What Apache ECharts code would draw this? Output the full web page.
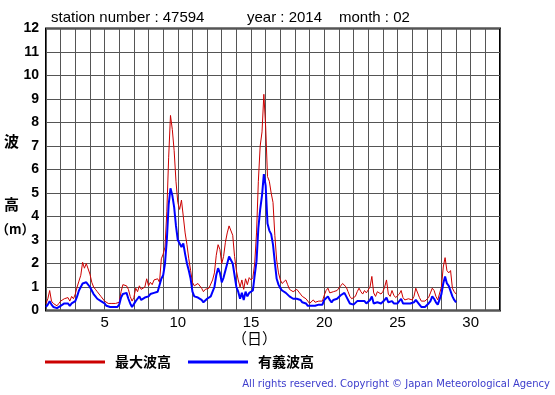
<!DOCTYPE html>
<html><head><meta charset="utf-8">
<script src="https://cdn.jsdelivr.net/npm/echarts@6/dist/echarts.min.js"></script>
<style>html,body{margin:0;padding:0;background:#fff}#c{width:555px;height:395px}</style>
</head><body><div id="c"></div>
<script>
// 3-hourly samples starting at day 1 00:00
const startDay = 1;
const stepsPerDay = 8;
const maxWave = [
 0.3,0.5,0.85,0.4,0.3,0.35,0.2,0.3,
 0.4,0.35,0.5,0.45,0.55,0.4,0.6,0.5,
 0.7,1.0,1.25,1.5,2.05,1.8,2.0,1.95,
 1.55,1.2,1.0,0.9,0.8,0.7,0.6,0.55,
 0.4,0.35,0.3,0.25,0.3,0.25,0.3,0.25,
 0.35,0.8,1.1,1.15,1.05,0.9,0.6,0.4,
 0.55,0.95,0.8,1.05,0.9,0.85,1.0,1.35,
 1.05,1.2,1.1,1.3,1.25,1.35,1.2,2.2,
 2.4,2.7,4.2,6.5,8.3,7.7,6.8,5.5,
 4.6,4.3,4.7,4.0,3.3,2.8,2.2,1.7,
 1.2,1.05,1.0,1.15,1.2,0.95,0.8,0.9,
 0.85,0.95,1.0,1.3,1.6,2.35,2.8,2.6,
 2.0,2.3,2.9,3.3,3.6,3.6,3.2,2.3,
 1.7,1.3,1.0,1.3,0.9,1.35,1.1,1.4,
 1.3,1.4,2.0,3.3,5.5,7.0,7.6,9.2,
 7.8,5.7,5.5,5.0,4.6,3.2,2.15,1.6,
 1.3,1.15,1.2,1.3,1.1,0.9,0.85,0.8,
 0.75,0.9,0.85,0.7,0.6,0.55,0.5,0.4,
 0.3,0.35,0.45,0.35,0.3,0.4,0.45,0.4,
 0.65,0.85,0.95,0.75,0.7,0.8,0.75,0.85,
 0.9,1.05,1.15,1.2,1.0,0.8,0.6,0.5,
 0.45,0.6,0.8,0.95,0.8,0.7,0.85,0.75,
 0.8,1.0,1.45,0.75,0.6,0.8,0.85,0.7,
 0.8,1.0,1.3,0.7,0.6,0.85,0.65,0.55,
 0.5,0.7,0.85,0.55,0.45,0.45,0.5,0.5,
 0.45,0.6,0.95,1.0,0.55,0.4,0.35,0.4,
 0.4,0.55,0.75,0.95,0.85,0.6,0.45,0.4,
 1.0,1.85,2.25,1.7,1.6,1.7,0.95,0.8,
 0.7
];
const sigWave = [
 0.15,0.25,0.4,0.25,0.15,0.2,0.1,0.15,
 0.2,0.15,0.3,0.25,0.3,0.2,0.3,0.25,
 0.4,0.6,0.85,1.0,1.15,1.2,1.2,1.15,
 1.0,0.85,0.7,0.6,0.5,0.45,0.4,0.35,
 0.3,0.2,0.18,0.15,0.18,0.15,0.18,0.15,
 0.25,0.55,0.7,0.75,0.75,0.5,0.3,0.15,
 0.1,0.4,0.5,0.6,0.45,0.45,0.55,0.6,
 0.6,0.7,0.65,0.75,0.7,0.8,0.75,1.35,
 1.5,2.0,3.0,4.5,5.2,4.9,4.4,3.6,
 3.0,2.85,2.7,2.85,2.4,2.0,1.7,1.35,
 0.8,0.6,0.65,0.55,0.5,0.45,0.35,0.4,
 0.5,0.55,0.6,0.8,1.0,1.5,1.8,1.6,
 1.2,1.4,1.7,2.0,2.3,2.3,2.0,1.5,
 1.0,0.8,0.5,0.75,0.45,0.8,0.6,0.75,
 0.7,0.85,1.5,2.1,3.5,4.3,4.9,5.8,
 5.3,3.7,3.4,3.25,2.8,2.05,1.35,1.1,
 0.95,0.85,0.8,0.75,0.7,0.6,0.55,0.5,
 0.5,0.5,0.45,0.45,0.35,0.3,0.3,0.2,
 0.15,0.2,0.25,0.2,0.15,0.25,0.3,0.25,
 0.45,0.5,0.6,0.45,0.35,0.45,0.45,0.5,
 0.55,0.65,0.7,0.75,0.6,0.45,0.3,0.25,
 0.25,0.3,0.4,0.45,0.4,0.35,0.4,0.3,
 0.35,0.45,0.6,0.3,0.25,0.35,0.4,0.3,
 0.35,0.45,0.55,0.35,0.3,0.4,0.3,0.25,
 0.3,0.35,0.5,0.3,0.25,0.3,0.25,0.3,
 0.25,0.35,0.45,0.45,0.25,0.15,0.1,0.15,
 0.15,0.3,0.4,0.6,0.5,0.35,0.25,0.2,
 0.7,1.15,1.45,1.15,1.05,1.1,0.6,0.45,
 0.35
];
const seriesNames = ['最大波高', '有義波高'];
const xLabelDays = [5, 10, 15, 20, 25, 30];
const titleParts = ['station number : 47594', 'year : 2014', 'month : 02'];

const toPairs = arr => arr.map((v, i) => [startDay + i / stepsPerDay, v]);
const latin = 'Liberation Sans, Arial, sans-serif';
const cjk = '"Noto Sans CJK JP", sans-serif';
const titleStyle = {fontFamily: latin, fontSize: 15, fontWeight: 'normal', color: '#000'};

const chart = echarts.init(document.getElementById('c'), null, {renderer: 'canvas'});
chart.setOption({
  animation: false,
  backgroundColor: '#fff',
  title: [
    {text: titleParts[0], left: 46, top: 5, textStyle: titleStyle},
    {text: titleParts[1], left: 242, top: 5, textStyle: titleStyle},
    {text: titleParts[2], left: 334, top: 5, textStyle: titleStyle}
  ],
  grid: {left: 46, top: 28.5, width: 454, height: 282, show: true, borderColor: '#000', borderWidth: 2, backgroundColor: 'transparent'},
  legend: {
    left: 45, top: 355, padding: 0, icon: 'rect', itemWidth: 60, itemHeight: 3, itemGap: 17,
    textStyle: {fontFamily: cjk, fontSize: 14, fontWeight: 'bold', color: '#000', padding: [0, 0, 0, 5]},
    data: seriesNames
  },
  xAxis: {
    type: 'value', min: 1, max: 32, interval: 1,
    axisLine: {show: false}, axisTick: {show: false},
    splitLine: {show: true, lineStyle: {color: '#555', width: 1}},
    axisLabel: {
      margin: 5, fontFamily: latin, fontSize: 15, color: '#000',
      formatter: v => xLabelDays.includes(Math.round(v)) ? String(Math.round(v)) : ''
    }
  },
  yAxis: {
    type: 'value', min: 0, max: 12, interval: 1,
    axisLine: {show: false}, axisTick: {show: false},
    splitLine: {show: true, lineStyle: {color: '#555', width: 1}},
    axisLabel: {margin: 7, fontFamily: latin, fontSize: 14, fontWeight: 'bold', color: '#000'}
  },
  series: [
    {name: seriesNames[0], type: 'line', data: toPairs(maxWave), showSymbol: false, symbol: 'none',
     color: '#cc0000', lineStyle: {color: '#cc0000', width: 1}, z: 2},
    {name: seriesNames[1], type: 'line', data: toPairs(sigWave), showSymbol: false, symbol: 'none',
     color: '#0000ff', lineStyle: {color: '#0000ff', width: 2}, z: 3}
  ],
  graphic: [
    {type: 'text', left: 4, top: 134, style: {text: '波', font: 'bold 15px "Noto Sans CJK JP"', fill: '#000'}},
    {type: 'text', left: 4, top: 197, style: {text: '高', font: 'bold 15px "Noto Sans CJK JP"', fill: '#000'}},
    {type: 'text', left: -4, top: 223, style: {text: '（m）', font: 'bold 13px "Noto Sans CJK JP"', fill: '#000'}},
    {type: 'text', left: 232, top: 331, style: {text: '（日）', font: '15px "Noto Sans CJK JP"', fill: '#000'}},
    {type: 'text', right: 5, top: 379, style: {text: 'All rights reserved. Copyright © Japan Meteorological Agency', font: '10px "DejaVu Sans"', fill: '#3c3ccc'}}
  ]
});
</script></body></html>
